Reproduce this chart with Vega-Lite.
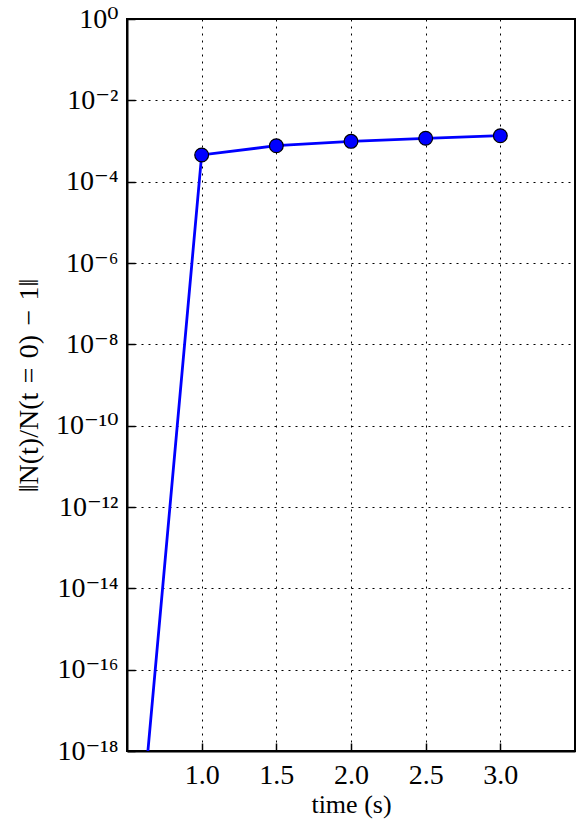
{
  "$schema": "https://vega.github.io/schema/vega-lite/v6.json",
  "width": 448,
  "height": 732,
  "autosize": {"type": "none"},
  "padding": {"left": 127, "top": 19, "right": 1, "bottom": 68},
  "background": "white",
  "config": {
    "view": {"stroke": "black", "strokeWidth": 2},
    "font": "'Liberation Serif', 'DejaVu Serif', serif",
    "axis": {
      "grid": true,
      "gridColor": "black",
      "gridDash": [2, 5],
      "gridWidth": 1,
      "gridOpacity": 1,
      "domainColor": "black",
      "domainWidth": 2,
      "tickColor": "black",
      "tickSize": -8,
      "tickWidth": 1.5,
      "labelFont": "'Liberation Serif', 'DejaVu Serif', serif",
      "labelFontSize": 28,
      "labelColor": "black",
      "titleFont": "'Liberation Serif', 'DejaVu Serif', serif",
      "titleFontSize": 28,
      "titleFontWeight": "normal",
      "titleColor": "black"
    }
  },
  "data": {
    "values": [
      {"t": 0.5, "v": 2e-24},
      {"t": 1.0, "v": 4.53e-4},
      {"t": 1.5, "v": 7.67e-4},
      {"t": 2.0, "v": 9.8e-4},
      {"t": 2.5, "v": 1.164e-3},
      {"t": 3.0, "v": 1.35e-3}
    ]
  },
  "encoding": {
    "x": {
      "field": "t",
      "type": "quantitative",
      "scale": {"domain": [0.5, 3.5], "nice": false, "zero": false},
      "axis": {
        "values": [1, 1.5, 2, 2.5, 3],
        "format": ".1f",
        "title": "time (s)",
        "titleFontSize": 26,
        "labelPadding": 18,
        "titlePadding": 2
      }
    },
    "y": {
      "field": "v",
      "type": "quantitative",
      "scale": {"type": "log", "domain": [1e-18, 1], "nice": false},
      "axis": {
        "values": [1, 1e-2, 1e-4, 1e-6, 1e-8, 1e-10, 1e-12, 1e-14, 1e-16, 1e-18],
        "labelExpr": "datum.value >= 0.5 ? '10⁰' : datum.value >= 5e-3 ? '10⁻²' : datum.value >= 5e-5 ? '10⁻⁴' : datum.value >= 5e-7 ? '10⁻⁶' : datum.value >= 5e-9 ? '10⁻⁸' : datum.value >= 5e-11 ? '10⁻¹⁰' : datum.value >= 5e-13 ? '10⁻¹²' : datum.value >= 5e-15 ? '10⁻¹⁴' : datum.value >= 5e-17 ? '10⁻¹⁶' : '10⁻¹⁸'",
        "title": "‖N(t)/N(t\u2004=\u20040)\u2004−\u20041‖",
        "labelPadding": 17,
        "titlePadding": 12
      }
    }
  },
  "layer": [
    {
      "mark": {"type": "line", "color": "#0000ff", "strokeWidth": 2.8, "clip": true}
    },
    {
      "transform": [{"filter": "datum.t >= 1"}],
      "mark": {"type": "point", "shape": "circle", "filled": true, "fill": "#0000ff", "color": "#0000ff", "stroke": "black", "strokeWidth": 1.2, "size": 190, "opacity": 1}
    }
  ]
}
